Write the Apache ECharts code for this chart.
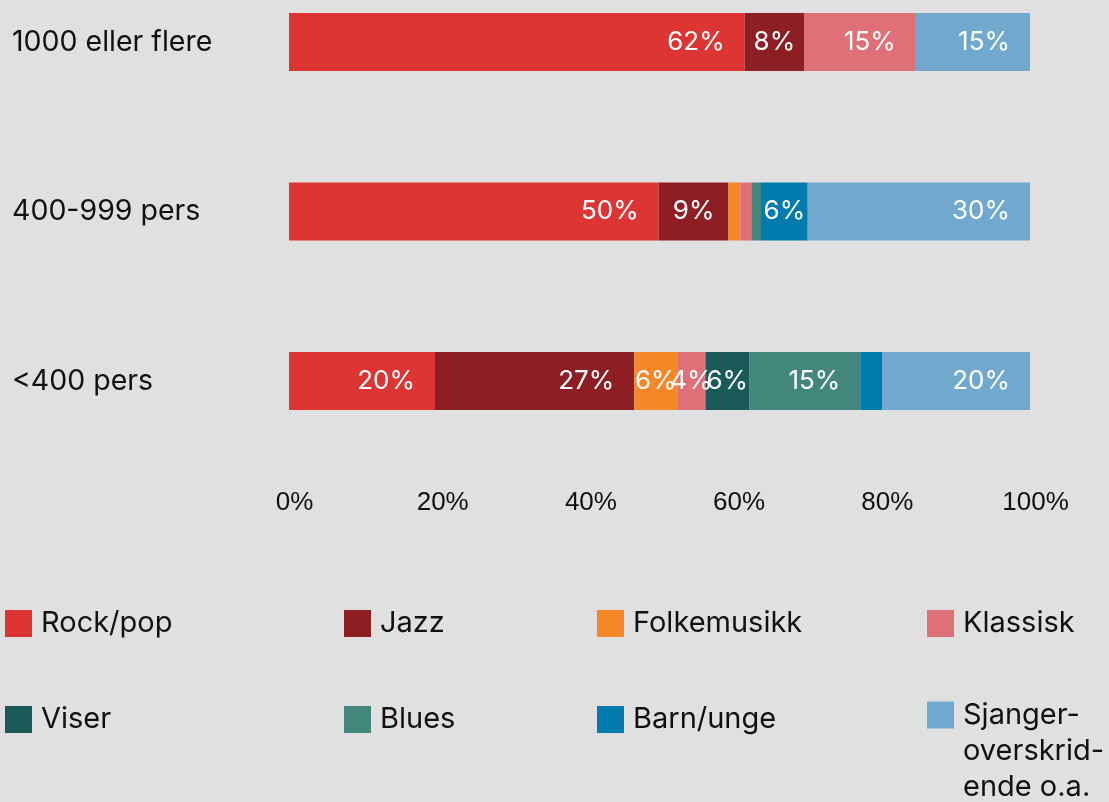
<!DOCTYPE html>
<html>
<head>
<meta charset="utf-8">
<script src="https://cdn.jsdelivr.net/npm/echarts@6/dist/echarts.min.js"></script>
<style>
html,body{margin:0;padding:0;background:#e0e0e0;}
#chart{width:1109px;height:802px;}
</style>
</head>
<body>
<div id="chart"></div>
<script>
const categories = ['1000 eller flere', '400-999 pers', '<400 pers'];
const seriesNames = ['Rock/pop', 'Jazz', 'Folkemusikk', 'Klassisk', 'Viser', 'Blues', 'Barn/unge', 'Sjanger-overskridende o.a.'];
const rockPop     = [61.5, 49.9, 19.7];
const jazz        = [8.0, 9.4, 26.9];
const folkemusikk = [0, 1.6, 5.8];
const klassisk    = [15.1, 1.5, 3.8];
const viser       = [0, 0, 5.9];
const blues       = [0, 1.3, 15.0];
const barnUnge    = [0, 6.3, 3.0];
const sjanger     = [15.4, 30.0, 19.9];
const xTicks = [0, 20, 40, 60, 80, 100];

const allValues = [rockPop, jazz, folkemusikk, klassisk, viser, blues, barnUnge, sjanger];
const colors = ['#dc3533', '#8d1f24', '#f58726', '#e07078', '#1b5a58', '#43867c', '#017aae', '#71a8ce'];

const W = 1109;
const gridLeft = 289, gridRight = 79;
const plotW = W - gridLeft - gridRight;
const ctx = document.createElement('canvas').getContext('2d');
ctx.font = '26px Inter';

function itemLabel(v) {
  const text = Math.round(v) + '%';
  const w = ctx.measureText(text).width;
  const px = v * plotW / 100;
  return {
    show: v >= 3.5,
    position: px > 40 + w ? 'insideRight' : 'inside',
    distance: 20
  };
}

const series = seriesNames.map((name, i) => ({
  name: name,
  type: 'bar',
  stack: 'total',
  barWidth: 58,
  itemStyle: { color: colors[i] },
  emphasis: { disabled: true },
  label: {
    color: '#ffffff',
    fontFamily: 'Inter',
    fontSize: 26,
    formatter: p => Math.round(p.value) + '%'
  },
  data: allValues[i].map(v => ({ value: v, label: itemLabel(v) }))
}));

const legendCols = [5, 344, 597, 927];
const legendRows = [609, 705];
const multiLine = 36;
const legends = seriesNames.map((name, i) => {
  const col = i % 4, row = Math.floor(i / 4);
  const isMulti = i === 7;
  return {
    data: [name],
    left: legendCols[col],
    top: isMulti ? legendRows[row] - (2.5 * multiLine - 13.5) : legendRows[row],
    padding: 0,
    icon: 'rect',
    itemWidth: 27,
    itemHeight: 27,
    selectedMode: false,
    formatter: isMulti
      ? () => '{a| }\n{a| }\n{a|Sjanger-}\n{a|overskrid-}\n{a|ende o.a.}'
      : n => '{a|' + n + '}',
    textStyle: {
      fontFamily: 'Inter',
      fontSize: 29,
      color: '#111111',
      rich: {
        a: {
          fontFamily: 'Inter',
          fontSize: 29,
          color: '#111111',
          lineHeight: isMulti ? multiLine : 27,
          padding: [0, 0, 0, 4]
        }
      }
    }
  };
});

const chart = echarts.init(document.getElementById('chart'));
chart.setOption({
  backgroundColor: '#e0e0e0',
  animation: false,
  legend: legends,
  grid: { left: gridLeft, right: gridRight, top: 42, height: 339, containLabel: false },
  xAxis: {
    type: 'value',
    min: 0,
    max: 100,
    interval: 20,
    splitLine: { show: false },
    axisLine: { show: false },
    axisTick: { show: false },
    axisLabel: {
      margin: 109,
      fontFamily: 'Liberation Sans',
      fontSize: 26,
      color: '#111111',
      padding: [0, 0, 0, 11],
      formatter: v => xTicks.includes(v) ? v + '%' : ''
    }
  },
  yAxis: {
    type: 'category',
    data: categories,
    inverse: true,
    boundaryGap: false,
    axisLine: { show: false },
    axisTick: { show: false },
    splitLine: { show: false },
    axisLabel: {
      align: 'left',
      margin: 277,
      fontFamily: 'Inter',
      fontSize: 28.5,
      color: '#111111'
    }
  },
  series: series
});
</script>
</body>
</html>
